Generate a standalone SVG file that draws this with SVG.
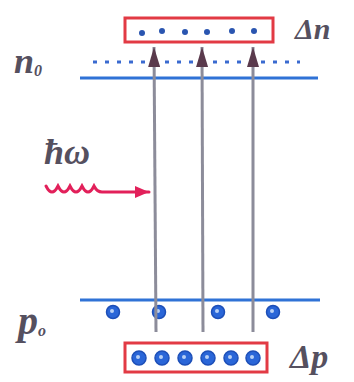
<svg xmlns="http://www.w3.org/2000/svg" width="354" height="382" viewBox="0 0 354 382">
<defs>
<style>
.lbl{font-family:"Liberation Serif","DejaVu Serif",serif;font-style:italic;font-weight:bold;fill:#55505f}
.sub{font-size:16px}
.box{fill:#fff;stroke:#e23a44;stroke-width:3}
.level{stroke:#2f72d6;stroke-width:3;fill:none}
.trans{stroke:#8c8c9a;stroke-width:3;fill:none}
.hole{fill:#2a66d8;stroke:#1d4fb8;stroke-width:1.5}
.holec{fill:#b8d0f5}
.el{fill:#2a55b0}
.edot{stroke:#3a6ad0;stroke-width:3;stroke-dasharray:4 8;fill:none}
</style>
<marker id="ah" viewBox="0 0 20 12" refX="20" refY="6" markerWidth="20" markerHeight="12" markerUnits="userSpaceOnUse" orient="auto">
<path d="M0,0 L20,6 L0,12 z" fill="#5a3a4c"/>
</marker>
<marker id="ra" viewBox="0 0 14 12" refX="14" refY="6" markerWidth="14" markerHeight="12" markerUnits="userSpaceOnUse" orient="auto">
<path d="M0,0 L14,6 L0,12 z" fill="#e2205a"/>
</marker>
</defs>

<g id="conduction-band">
<line class="level" x1="80" y1="78" x2="318" y2="78"/>
<line class="edot" x1="93" y1="62" x2="300" y2="62"/>
<text class="lbl" x="14" y="73" font-size="36">n<tspan class="sub" dy="3">0</tspan></text>
</g>

<g id="valence-band">
<line class="level" x1="80" y1="300" x2="320" y2="300"/>
<g>
<circle class="hole" cx="113" cy="312" r="6.5"/><circle class="holec" cx="112" cy="311" r="2"/>
<circle class="hole" cx="159" cy="312" r="6.5"/><circle class="holec" cx="158" cy="311" r="2"/>
<circle class="hole" cx="218" cy="312" r="6.5"/><circle class="holec" cx="217" cy="311" r="2"/>
<circle class="hole" cx="273" cy="312" r="6.5"/><circle class="holec" cx="272" cy="311" r="2"/>
</g>
<text class="lbl" x="18" y="334" font-size="40">p<tspan class="sub" dy="2">o</tspan></text>
</g>

<g id="delta-n">
<rect class="box" x="125" y="18" width="148" height="24"/>
<g class="el">
<circle cx="142" cy="33" r="3"/><circle cx="162" cy="31" r="3"/><circle cx="185" cy="32" r="3"/>
<circle cx="207" cy="32" r="3"/><circle cx="232" cy="31" r="3"/><circle cx="254" cy="31" r="3"/>
</g>
<text class="lbl" x="295" y="39" font-size="30">Δn</text>
</g>

<g id="delta-p">
<rect class="box" x="125" y="343" width="142" height="29"/>
<g>
<circle class="hole" cx="139" cy="358" r="7"/><circle class="holec" cx="138" cy="357" r="2"/>
<circle class="hole" cx="162" cy="358" r="7"/><circle class="holec" cx="161" cy="357" r="2"/>
<circle class="hole" cx="185" cy="358" r="7"/><circle class="holec" cx="184" cy="357" r="2"/>
<circle class="hole" cx="208" cy="358" r="7"/><circle class="holec" cx="207" cy="357" r="2"/>
<circle class="hole" cx="231" cy="358" r="7"/><circle class="holec" cx="230" cy="357" r="2"/>
<circle class="hole" cx="253" cy="358" r="7"/><circle class="holec" cx="252" cy="357" r="2"/>
</g>
<text class="lbl" x="290" y="368" font-size="34">Δp</text>
</g>

<g id="photon">
<text class="lbl" x="44" y="164" font-size="36">ħω</text>
<path d="M46,186 q6,12 12,0 q6,12 12,0 q6,12 12,0 q6,12 12,0 q3,6 8,6 L149,192" fill="none" stroke="#e2205a" stroke-width="3" stroke-linecap="round" marker-end="url(#ra)"/>
</g>

<g id="connectors">
<line class="trans" x1="156" y1="332" x2="154" y2="47" marker-end="url(#ah)"/>
<line class="trans" x1="203" y1="332" x2="202" y2="47" marker-end="url(#ah)"/>
<line class="trans" x1="253" y1="332" x2="253" y2="47" marker-end="url(#ah)"/>
</g>
</svg>
